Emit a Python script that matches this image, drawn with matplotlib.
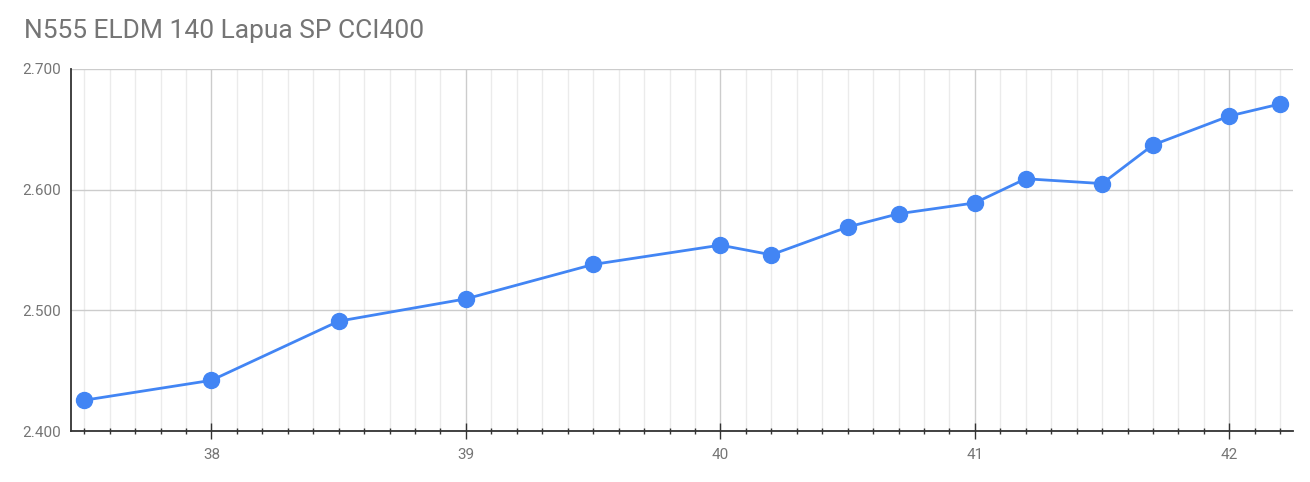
import numpy as np
import matplotlib.pyplot as plt
from matplotlib.ticker import MultipleLocator, FormatStrFormatter

plt.rcParams['font.family'] = ['Roboto', 'DejaVu Sans']

# charge weight (gr) vs velocity
charge = [37.5, 38.0, 38.5, 39.0, 39.5, 40.0, 40.2, 40.5, 40.7, 41.0,
          41.2, 41.5, 41.7, 42.0, 42.2]
velocity = [2.4255, 2.442, 2.491, 2.5095, 2.538, 2.554, 2.546, 2.569, 2.580, 2.589,
            2.609, 2.605, 2.637, 2.661, 2.671]

title = "N555 ELDM 140 Lapua SP CCI400"
blue = '#4285F4'
grey_txt = '#757575'

fig = plt.figure(figsize=(13.1, 4.82), dpi=100)
ax = fig.add_axes([0.0542, 0.1058, 0.9328, 0.7512])

ax.plot(charge, velocity, '-o', color=blue, lw=2.0, ms=11.5, zorder=5, clip_on=False)

ax.set_xlim(37.448, 42.25)
ax.set_ylim(2.4, 2.7)

ax.xaxis.set_major_locator(MultipleLocator(1))
ax.xaxis.set_minor_locator(MultipleLocator(0.1))
ax.yaxis.set_major_locator(MultipleLocator(0.1))
ax.yaxis.set_major_formatter(FormatStrFormatter('%.3f'))
ax.xaxis.set_major_formatter(FormatStrFormatter('%d'))

ax.grid(True, which='major', color='#cccccc', lw=1.0)
ax.grid(True, which='minor', axis='x', color='#ebebeb', lw=1.0)
ax.set_axisbelow(True)

for s in ['top', 'right']:
    ax.spines[s].set_visible(False)
for s in ['left', 'bottom']:
    ax.spines[s].set_color('#333333')
    ax.spines[s].set_linewidth(1.3)
    ax.spines[s].set_zorder(3)

ax.tick_params(axis='x', which='major', direction='inout', length=11, width=1.0,
               color='#333333', labelsize=11, labelcolor=grey_txt, pad=7)
ax.tick_params(axis='x', which='minor', direction='inout', length=4.5, width=1.0,
               color='#333333')
ax.tick_params(axis='y', length=0, labelsize=11, labelcolor=grey_txt, pad=7)

fig.text(0.018, 0.936, title, fontsize=19, color=grey_txt, va='center', ha='left')

fig.savefig('out.png', dpi=100)
